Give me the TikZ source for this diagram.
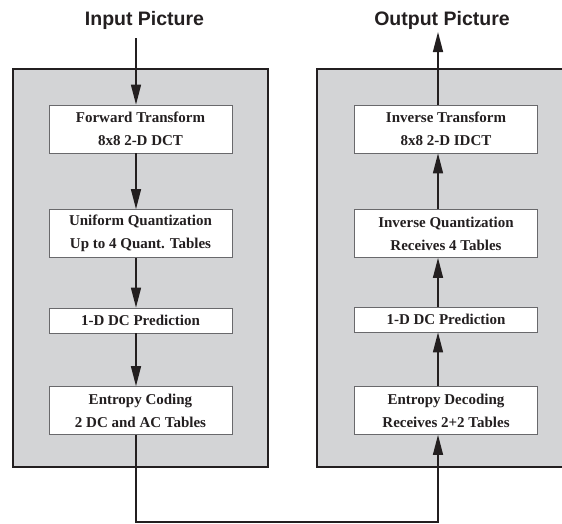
\documentclass[tikz,border=0pt]{standalone}
\usepackage{xcolor}
\usepackage{fontspec}
\setmainfont{Liberation Serif}
\newfontfamily\labelfont{Liberation Sans}
\usepackage{tikz}
\usetikzlibrary{arrows.meta,positioning}

\definecolor{panelgray}{RGB}{211,212,214}
\definecolor{inkdark}{RGB}{35,31,32}
\definecolor{boxgray}{RGB}{105,105,108}

\begin{document}
\begin{tikzpicture}[
    x=1pt, y=-1pt,
    panel/.style={draw=inkdark, line width=1.6pt, fill=panelgray, inner sep=0pt},
    stage/.style={draw=boxgray, line width=0.8pt, fill=white, minimum width=183pt, inner sep=0pt, align=center, text=inkdark, font=\bfseries\fontsize{15}{23}\selectfont},
    twoline/.style={stage, minimum height=48pt},
    oneline/.style={stage, minimum height=25pt},
    title/.style={text=inkdark, font=\labelfont\bfseries\fontsize{19.5}{22}\selectfont},
    flow/.style={-{Triangle[length=20pt,width=10pt]}, line width=1.5pt, draw=inkdark}
]
    \useasboundingbox (0,0) rectangle (562,523);

    % Panels
    \node[panel, minimum width=255pt, minimum height=398pt] (enc) at (140.5,268) {};
    \node[panel, minimum width=258pt, minimum height=398pt] (decp) at (446,268) {};

    % Titles
    \node[title] (inlabel) at (144.5,20) {Input Picture};
    \node[title] (outlabel) at (442,20) {Output Picture};

    % Encoder stages
    \node[twoline] (fwd) at (140.5,129) {Forward Transform\\8x8 2-D DCT};
    \node[twoline] (quant) at (140.5,233.5) {Uniform Quantization\\Up to 4 Quant. Tables};
    \node[oneline] (pred) at (140.5,320.5) {1-D DC Prediction};
    \node[twoline] (ent) at (140.5,410.5) {Entropy Coding\\2 DC and AC Tables};

    % Decoder stages
    \node[twoline] (inv) at (446,129) {Inverse Transform\\8x8 2-D IDCT};
    \node[twoline] (iquant) at (446,233.5) {Inverse Quantization\\Receives 4 Tables};
    \node[oneline] (ipred) at (446,319.5) {1-D DC Prediction};
    \node[twoline] (dec) at (446,410.5) {Entropy Decoding\\Receives 2+2 Tables};

    % Connector ends
    \coordinate (inx) at (136,38);
    \coordinate (outx) at (438,32);
    \coordinate (loop) at (136,522);

    % Encoder flow
    \draw[flow] (inx) -- (inx |- fwd.north);
    \draw[flow] (inx |- fwd.south) -- (inx |- quant.north);
    \draw[flow] (inx |- quant.south) -- (inx |- pred.north);
    \draw[flow] (inx |- pred.south) -- (inx |- ent.north);

    % Channel to decoder
    \draw[flow] (inx |- ent.south) -- (loop) -| (outx |- dec.south);

    % Decoder flow
    \draw[flow] (outx |- dec.north) -- (outx |- ipred.south);
    \draw[flow] (outx |- ipred.north) -- (outx |- iquant.south);
    \draw[flow] (outx |- iquant.north) -- (outx |- inv.south);
    \draw[flow] (outx |- inv.north) -- (outx);
\end{tikzpicture}
\end{document}
